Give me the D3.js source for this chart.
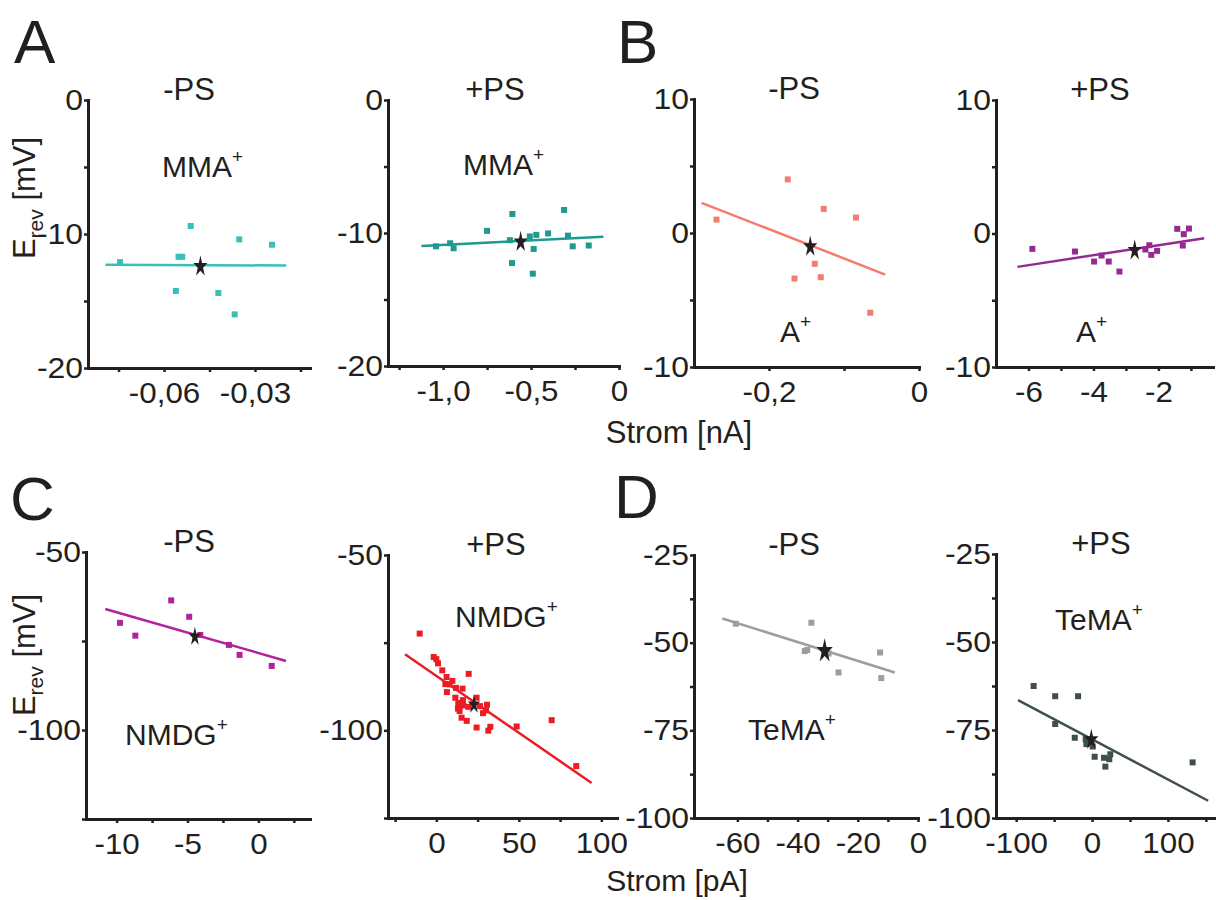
<!DOCTYPE html>
<html>
<head>
<meta charset="utf-8">
<script src="https://cdn.jsdelivr.net/npm/d3@7"></script>
<style>
  body { margin: 0; background: #fff; }
  svg text { font-family: "Liberation Sans", Arial, sans-serif; fill: #231f20; }
</style>
</head>
<body>
<script>
// ---- data: [Strom, Erev] ----
const mmaMinusPts = [[-0.0745,-12.1],[-0.0552,-11.7],[-0.0540,-11.7],[-0.0512,-9.4],[-0.0561,-14.25],
  [-0.0421,-14.4],[-0.0367,-16.0],[-0.0352,-10.4],[-0.0244,-10.8]];
const mmaMinusStar = [-0.048,-12.35];
const mmaMinusFit = [[-0.0793,-12.3],[-0.0197,-12.35]];

const mmaPlusPts = [[-1.04,-11.0],[-0.96,-10.77],[-0.94,-11.15],[-0.75,-9.84],[-0.606,-8.57],[-0.62,-10.54],
  [-0.608,-12.26],[-0.507,-10.26],[-0.485,-11.2],[-0.49,-13.06],[-0.47,-10.14],[-0.403,-10.03],
  [-0.312,-8.27],[-0.29,-10.2],[-0.263,-11.0],[-0.172,-10.94]];
const mmaPlusStar = [-0.559,-10.6];
const mmaPlusFit = [[-1.123,-10.97],[-0.089,-10.29]];

const aMinusPts = [[-0.27,1.0],[-0.175,4.0],[-0.127,1.8],[-0.084,1.15],[-0.139,-2.3],[-0.166,-3.4],
  [-0.131,-3.3],[-0.065,-5.95]];
const aMinusStar = [-0.145,-0.95];
const aMinusFit = [[-0.29,2.25],[-0.045,-3.1]];

const aPlusPts = [[-5.88,-1.15],[-4.57,-1.35],[-3.98,-2.1],[-3.75,-1.65],[-3.53,-2.1],[-3.2,-2.85],
  [-2.4,-1.2],[-2.28,-0.88],[-2.22,-1.6],[-2.04,-1.3],[-1.42,0.35],[-1.22,-0.05],[-1.06,0.37],[-1.25,-0.9]];
const aPlusStar = [-2.73,-1.2];
const aPlusFit = [[-6.34,-2.5],[-0.59,-0.35]];

const nmdgMinusPts = [[-9.76,-69.9],[-8.68,-73.5],[-6.15,-63.6],[-4.88,-68.2],[-4.1,-73.3],[-2.08,-76.1],
  [-1.33,-78.9],[0.94,-82.0]];
const nmdgMinusStar = [-4.48,-73.5];
const nmdgMinusFit = [[-10.8,-66.0],[1.95,-80.6]];

const nmdgPlusPts = [[-10.1,-72.4],[-1.6,-79.1],[0,-79.7],[1,-80.9],[3.6,-82.9],[6.2,-84.8],[5.5,-86.8],
  [6.4,-89.1],[8,-86.9],[9.7,-85.9],[11.9,-87.9],[11.5,-90.7],[13.3,-92.2],[13.1,-93.8],[14.1,-94.5],
  [15.9,-88.1],[16.1,-91.4],[16.3,-92.9],[15.3,-96.4],[18.4,-97.3],[19.6,-83.9],[19.4,-93.3],
  [24.4,-90.7],[24.4,-99.2],[26.5,-93.1],[28.3,-95.1],[30.1,-94.3],[30.7,-92.7],[32.7,-99.0],
  [31.5,-100.1],[48.7,-98.9],[69.9,-97.1],[84.8,-110.2]];
const nmdgPlusStar = [22.8,-92.4];
const nmdgPlusFit = [[-19,-78.3],[94.1,-115]];

const temaMinusPts = [[-60.5,-44.6],[-35.4,-44.3],[-37.6,-52.4],[-36.8,-52.1],[-29.7,-53.1],[-26.4,-58.5],
  [-12.6,-52.8],[-12.2,-60.1]];
const temaMinusStar = [-31.0,-52.1];
const temaMinusFit = [[-65,-43.1],[-7.7,-58.5]];

const temaPlusPts = [[-77,-62.5],[-48.6,-65.4],[-18.4,-65.4],[-48.6,-73.3],[-22.8,-77.2],[-8.4,-77.6],
  [-7.5,-79],[-5.3,-78.3],[0.8,-79.7],[3.4,-82.6],[15.7,-82.9],[17.5,-85.4],[22.7,-83.3],[24,-81.9],
  [132.5,-84.2]];
const temaPlusStar = [-1,-77.5];
const temaPlusFit = [[-97.6,-66.5],[153,-95.1]];

// ---- ticks ----
const ticksA1 = [-0.06,-0.03], labelsA1 = ["-0,06","-0,03"], minorA1 = [-0.075,-0.045,-0.015];
const ticksA2 = [-1,-0.5,0], labelsA2 = ["-1,0","-0,5","0"], minorA2 = [-1.25,-0.75,-0.25];
const ticksB1 = [-0.2,0], labelsB1 = ["-0,2","0"], minorB1 = [-0.1];
const ticksB2 = [-6,-4,-2], labelsB2 = ["-6","-4","-2"], minorB2 = [-5,-3,-1];
const ticksC1 = [-10,-5,0], labelsC1 = ["-10","-5","0"], minorC1 = [-7.5,-2.5,2.5];
const ticksC2 = [0,50,100], labelsC2 = ["0","50","100"], minorC2 = [-25,25,75];
const ticksD1 = [-60,-40,-20,0], labelsD1 = ["-60","-40","-20","0"], minorD1 = [-50,-30,-10];
const ticksD2 = [-100,0,100], labelsD2 = ["-100","0","100"], minorD2 = [-50,50,150];

const yTicksAB = [0,-10,-20], yLabelsA = ["0","-10","-20"], yMinorA = [-5,-15];
const yTicksB = [10,0,-10], yLabelsB = ["10","0","-10"], yMinorB = [5,-5];
const yTicksC = [-50,-100], yLabelsC = ["-50","-100"], yMinorC = [-75,-125];
const yTicksD = [-25,-50,-75,-100], yLabelsD = ["-25","-50","-75","-100"], yMinorD = [-37.5,-62.5,-87.5];

const ink = "#231f20";
const svg = d3.select("body").append("svg").attr("width", 1216).attr("height", 900);

function stretch(sel, k) {
  sel.selectAll(".tick text").each(function() {
    const w = this.getComputedTextLength();
    d3.select(this).attr("textLength", w * k).attr("lengthAdjust", "spacingAndGlyphs");
  });
}

function styleAxis(g) {
  g.select(".domain").attr("stroke", ink).attr("stroke-width", 3).attr("stroke-linecap", "square");
  g.selectAll(".tick line").attr("stroke", ink).attr("stroke-width", 2.5);
  g.selectAll(".tick text").style("font-size", "29px").attr("fill", ink);
}

function panel(p) {
  const x = d3.scaleLinear().domain(p.xDomain).range([p.left, p.right]);
  const y = d3.scaleLinear().domain(p.yDomain).range([p.bottom, p.top]);
  const g = svg.append("g");

  g.append("g").attr("transform", `translate(0,${p.bottom})`)
    .call(d3.axisBottom(x).tickValues(p.xMinor).tickFormat("").tickSize(4).tickSizeOuter(0))
    .call(styleAxis);
  const xg = g.append("g").attr("transform", `translate(0,${p.bottom})`)
    .call(d3.axisBottom(x).tickValues(p.xTicks).tickFormat(d => p.xLabels[p.xTicks.indexOf(d)])
      .tickSize(4).tickSizeOuter(0).tickPadding(10))
    .call(styleAxis);
  stretch(xg, 1.08);

  g.append("g").attr("transform", `translate(${p.left},0)`)
    .call(d3.axisLeft(y).tickValues(p.yMinor).tickFormat("").tickSize(4).tickSizeOuter(0))
    .call(styleAxis);
  const yg = g.append("g").attr("transform", `translate(${p.left},0)`)
    .call(d3.axisLeft(y).tickValues(p.yTicks).tickFormat(d => p.yLabels[p.yTicks.indexOf(d)])
      .tickSize(4).tickSizeOuter(0).tickPadding(1))
    .call(styleAxis);
  stretch(yg, 1.1);

  g.selectAll("rect.pt").data(p.pts).enter().append("rect")
    .attr("class", "pt")
    .attr("x", d => x(d[0]) - 3).attr("y", d => y(d[1]) - 3)
    .attr("width", 6).attr("height", 6)
    .attr("fill", p.color);

  g.append("line")
    .attr("x1", x(p.fit[0][0])).attr("y1", y(p.fit[0][1]))
    .attr("x2", x(p.fit[1][0])).attr("y2", y(p.fit[1][1]))
    .attr("stroke", p.color).attr("stroke-width", 2.5);

  // narrow, tall star like the original
  g.append("path")
    .attr("d", d3.symbol(d3.symbolStar, p.starSize || 140)())
    .attr("transform", `translate(${x(p.star[0])},${y(p.star[1]) + 1}) scale(0.66,1)`)
    .attr("fill", ink);

  g.append("text").attr("x", p.titleX).attr("y", p.top).attr("text-anchor", "middle")
    .style("font-size", "31px").text(p.title);

  const ion = g.append("text").attr("x", p.ionX).attr("y", p.ionY).style("font-size", "30px");
  ion.append("tspan").text(p.ion);
  ion.append("tspan").attr("dy", -14).style("font-size", "19px").text("+");
}

const panels = [
  { left: 88, right: 310, top: 100, bottom: 368, xDomain: [-0.08506, -0.01187], yDomain: [-20, 0],
    xTicks: ticksA1, xLabels: labelsA1, xMinor: minorA1, yTicks: yTicksAB, yLabels: yLabelsA, yMinor: yMinorA,
    pts: mmaMinusPts, star: mmaMinusStar, fit: mmaMinusFit, color: "#36c0b8",
    title: "-PS", titleX: 189, ion: "MMA", ionX: 162, ionY: 177 },
  { left: 388, right: 619, top: 100, bottom: 366, xDomain: [-1.313, 0], yDomain: [-20, 0],
    xTicks: ticksA2, xLabels: labelsA2, xMinor: minorA2, yTicks: yTicksAB, yLabels: yLabelsA, yMinor: yMinorA,
    pts: mmaPlusPts, star: mmaPlusStar, fit: mmaPlusFit, color: "#1e9a8f",
    title: "+PS", titleX: 495, ion: "MMA", ionX: 463, ionY: 175 },
  { left: 694, right: 919, top: 99, bottom: 367, xDomain: [-0.3, 0], yDomain: [-10, 10],
    xTicks: ticksB1, xLabels: labelsB1, xMinor: minorB1, yTicks: yTicksB, yLabels: yLabelsB, yMinor: yMinorB,
    pts: aMinusPts, star: aMinusStar, fit: aMinusFit, color: "#f47b70",
    title: "-PS", titleX: 794, ion: "A", ionX: 780, ionY: 342 },
  { left: 996, right: 1213, top: 100, bottom: 367, xDomain: [-7, -0.32], yDomain: [-10, 10],
    xTicks: ticksB2, xLabels: labelsB2, xMinor: minorB2, yTicks: yTicksB, yLabels: yLabelsB, yMinor: yMinorB,
    pts: aPlusPts, star: aPlusStar, fit: aPlusFit, color: "#952a92",
    title: "+PS", titleX: 1100, ion: "A", ionX: 1076, ionY: 342 },
  { left: 86, right: 310, top: 552, bottom: 819, xDomain: [-12.16, 3.64], yDomain: [-125, -50],
    xTicks: ticksC1, xLabels: labelsC1, xMinor: minorC1, yTicks: yTicksC, yLabels: yLabelsC, yMinor: yMinorC,
    pts: nmdgMinusPts, star: nmdgMinusStar, fit: nmdgMinusFit, color: "#b3219b", starSize: 110,
    title: "-PS", titleX: 189, ion: "NMDG", ionX: 125, ionY: 745 },
  { left: 388, right: 617, top: 555, bottom: 818, xDomain: [-29.3, 109.5], yDomain: [-125, -50],
    xTicks: ticksC2, xLabels: labelsC2, xMinor: minorC2, yTicks: yTicksC, yLabels: yLabelsC, yMinor: yMinorC,
    pts: nmdgPlusPts, star: nmdgPlusStar, fit: nmdgPlusFit, color: "#ec1c24", starSize: 110,
    title: "+PS", titleX: 496, ion: "NMDG", ionX: 455, ionY: 627 },
  { left: 694, right: 918, top: 555, bottom: 818, xDomain: [-74.4, 0], yDomain: [-100, -25],
    xTicks: ticksD1, xLabels: labelsD1, xMinor: minorD1, yTicks: yTicksD, yLabels: yLabelsD, yMinor: yMinorD,
    pts: temaMinusPts, star: temaMinusStar, fit: temaMinusFit, color: "#9d9d9d", starSize: 185,
    title: "-PS", titleX: 794, ion: "TeMA", ionX: 748, ionY: 740 },
  { left: 996, right: 1215, top: 554, bottom: 818, xDomain: [-126.6, 162], yDomain: [-100, -25],
    xTicks: ticksD2, xLabels: labelsD2, xMinor: minorD2, yTicks: yTicksD, yLabels: yLabelsD, yMinor: yMinorD,
    pts: temaPlusPts, star: temaPlusStar, fit: temaPlusFit, color: "#3f4f4b",
    title: "+PS", titleX: 1101, ion: "TeMA", ionX: 1055, ionY: 630 }
];
panels.forEach(panel);

// panel letters
[["A", 14, 63], ["B", 617, 63], ["C", 10, 520], ["D", 614, 518]].forEach(([t, lx, ly]) => {
  svg.append("text").attr("x", lx).attr("y", ly).style("font-size", "62px").text(t);
});

// axis titles
[198, 655].forEach(cy => {
  const t = svg.append("text").attr("transform", `translate(35,${cy}) rotate(-90)`)
    .attr("text-anchor", "middle").style("font-size", "31px");
  t.append("tspan").text("E");
  t.append("tspan").attr("dy", 8).style("font-size", "21px").text("rev");
  t.append("tspan").attr("dy", -8).text(" [mV]");
});
svg.append("text").attr("x", 679).attr("y", 443).attr("text-anchor", "middle")
  .style("font-size", "31px").text("Strom [nA]");
svg.append("text").attr("x", 677).attr("y", 891).attr("text-anchor", "middle")
  .style("font-size", "30px").text("Strom [pA]");
</script>
</body>
</html>
